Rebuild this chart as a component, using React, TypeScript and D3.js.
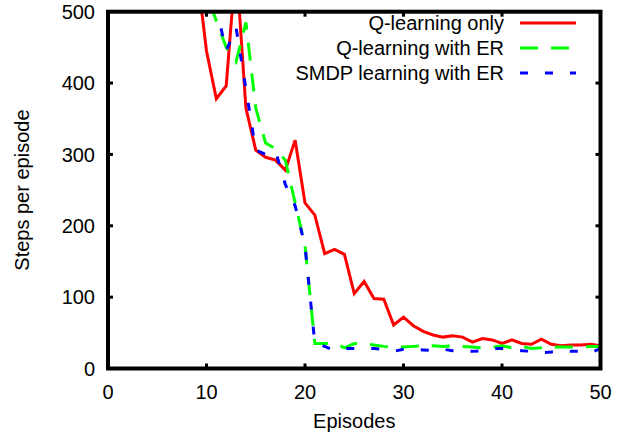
import React from "react";
import * as d3 from "d3";

// episodes 1..50, steps per episode (values above 500 are clipped by the frame)
const episodes = [
  1, 2, 3, 4, 5, 6, 7, 8, 9, 10, 11, 12, 13, 14, 15, 16, 17, 18, 19, 20, 21, 22, 23, 24, 25,
  26, 27, 28, 29, 30, 31, 32, 33, 34, 35, 36, 37, 38, 39, 40, 41, 42, 43, 44, 45, 46, 47, 48, 49, 50,
];

const qOnly = [
  1500, 1400, 1200, 1100, 950, 850, 750, 650, 560, 445, 378, 396, 570, 365, 306, 296, 292, 278, 320, 232,
  215, 161, 167, 160, 105, 122, 98, 97, 61, 72, 60, 52, 47, 44, 46, 44, 37, 42, 40, 35,
  40, 35, 34, 41, 34, 32, 33, 33, 34, 32,
];

const qER = [
  1500, 1400, 1300, 1100, 1000, 900, 800, 700, 600, 525, 487, 450, 430, 485, 365, 316, 308, 292, 232, 172,
  35, 35, 36, 29, 35, 35, 33, 31, 30, 30, 31, 32, 32, 31, 32, 31, 30, 29, 30, 32,
  29, 31, 28, 29, 30, 30, 30, 30, 31, 31,
];

const smdpER = [
  1500, 1400, 1300, 1100, 1000, 900, 800, 600, 497, 520, 505, 445, 478, 392, 306, 300, 305, 258, 228, 172,
  35, 31, 25, 28, 28, 28, 28, 27, 24, 27, 27, 26, 25, 27, 25, 24, 24, 25, 28, 28,
  26, 25, 24, 22, 23, 25, 24, 24, 22, 28,
];

const xTicks = [0, 10, 20, 30, 40, 50];
const yTicks = [0, 100, 200, 300, 400, 500];

const series = [
  { name: "Q-learning only", values: qOnly, color: "#ff0000", dash: "none" },
  { name: "Q-learning with ER", values: qER, color: "#00ff00", dash: "18,13" },
  { name: "SMDP learning with ER", values: smdpER, color: "#0000ff", dash: "8,17" },
];

const W = 627;
const H = 435;
const M = { left: 108, right: 26.5, top: 11.7, bottom: 66.5 };
const FONT = "'Liberation Sans', Arial, Helvetica, sans-serif";

export default function App() {
  const x = d3.scaleLinear().domain([0, 50]).range([M.left, W - M.right]);
  const y = d3.scaleLinear().domain([0, 500]).range([H - M.bottom, M.top]);

  const line = d3
    .line<number>()
    .x((_, i) => x(episodes[i]))
    .y((d) => y(d));

  const x0 = x(0);
  const x1 = x(50);
  const y0 = y(0);
  const y1 = y(500);

  return (
    <svg
      width={W}
      height={H}
      style={{ position: "absolute", left: 0, top: 0, background: "#fff" }}
      fontFamily={FONT}
    >
      <defs>
        <clipPath id="plot">
          <rect x={x0} y={y1} width={x1 - x0} height={y0 - y1} />
        </clipPath>
      </defs>

      {/* data lines */}
      <g clipPath="url(#plot)">
        {series.map((s) => (
          <path
            key={s.name}
            d={line(s.values) || ""}
            fill="none"
            stroke={s.color}
            strokeWidth={3}
            strokeDasharray={s.dash}
            strokeLinejoin="miter"
          />
        ))}
      </g>

      {/* ticks (mirrored on all sides) */}
      {xTicks.slice(1, -1).map((t) => (
        <g key={"xt" + t} stroke="#000" strokeWidth={3}>
          <line x1={x(t)} x2={x(t)} y1={y0} y2={y0 - 5} />
          <line x1={x(t)} x2={x(t)} y1={y1} y2={y1 + 5} />
        </g>
      ))}
      {yTicks.slice(1, -1).map((t) => (
        <g key={"yt" + t} stroke="#000" strokeWidth={3}>
          <line x1={x0} x2={x0 + 5} y1={y(t)} y2={y(t)} />
          <line x1={x1} x2={x1 - 5} y1={y(t)} y2={y(t)} />
        </g>
      ))}

      {/* frame */}
      <rect
        x={x0}
        y={y1}
        width={x1 - x0}
        height={y0 - y1}
        fill="none"
        stroke="#000"
        strokeWidth={4}
      />

      {/* tick labels */}
      {yTicks.map((t) => (
        <text key={"yl" + t} x={95} y={y(t)} dy="0.36em" textAnchor="end" fontSize={20}>
          {t}
        </text>
      ))}
      {xTicks.map((t) => (
        <text key={"xl" + t} x={x(t)} y={392} dy="0.36em" textAnchor="middle" fontSize={20}>
          {t}
        </text>
      ))}

      {/* axis titles */}
      <text x={(x0 + x1) / 2} y={421} dy="0.36em" textAnchor="middle" fontSize={20}>
        Episodes
      </text>
      <text
        transform={`translate(22,${(y0 + y1) / 2}) rotate(-90)`}
        dy="0.36em"
        textAnchor="middle"
        fontSize={20}
      >
        Steps per episode
      </text>

      {/* legend */}
      {series.map((s, i) => {
        const ly = 23 + i * 25;
        return (
          <g key={"lg" + s.name}>
            <text x={504} y={ly} dy="0.36em" textAnchor="end" fontSize={20}>
              {s.name}
            </text>
            <line
              x1={520}
              x2={576}
              y1={ly}
              y2={ly}
              stroke={s.color}
              strokeWidth={3}
              strokeDasharray={s.dash}
            />
          </g>
        );
      })}
    </svg>
  );
}
